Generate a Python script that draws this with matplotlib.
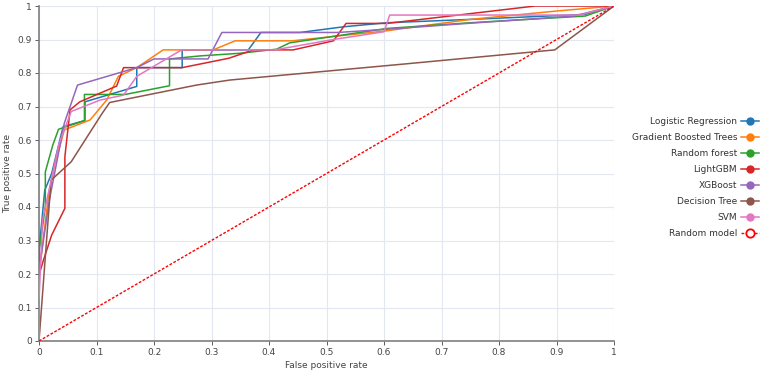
import matplotlib.pyplot as plt
from matplotlib.lines import Line2D

# ROC curves
lr_fpr = [0, 0, 0.01, 0.022, 0.042, 0.08, 0.08, 0.17, 0.17, 0.249, 0.249, 0.364, 0.386, 0.454, 0.53, 0.605, 0.75, 0.95, 1]
lr_tpr = [0, 0.27, 0.45, 0.5, 0.64, 0.658, 0.714, 0.76, 0.816, 0.816, 0.868, 0.869, 0.921, 0.921, 0.938, 0.95, 0.96, 0.975, 1]

gb_fpr = [0, 0, 0.017, 0.028, 0.044, 0.089, 0.118, 0.138, 0.17, 0.216, 0.249, 0.303, 0.341, 0.44, 0.6, 0.75, 0.9, 1]
gb_tpr = [0, 0.2, 0.44, 0.53, 0.63, 0.66, 0.72, 0.79, 0.816, 0.869, 0.869, 0.869, 0.896, 0.896, 0.925, 0.96, 0.985, 1]

rf_fpr = [0, 0, 0.011, 0.011, 0.024, 0.034, 0.079, 0.079, 0.15, 0.227, 0.227, 0.28, 0.35, 0.413, 0.436, 0.605, 0.75, 0.95, 1]
rf_tpr = [0, 0.267, 0.4, 0.505, 0.585, 0.632, 0.658, 0.736, 0.736, 0.762, 0.842, 0.851, 0.859, 0.871, 0.89, 0.933, 0.95, 0.97, 1]

lg_fpr = [0, 0, 0.0075, 0.022, 0.045, 0.045, 0.054, 0.071, 0.135, 0.147, 0.249, 0.33, 0.373, 0.442, 0.512, 0.534, 0.605, 0.863, 1]
lg_tpr = [0, 0.197, 0.24, 0.316, 0.396, 0.55, 0.69, 0.714, 0.761, 0.816, 0.816, 0.844, 0.869, 0.869, 0.896, 0.948, 0.948, 1.0, 1]

xg_fpr = [0, 0, 0.018, 0.044, 0.067, 0.17, 0.2, 0.294, 0.318, 0.52, 0.6, 0.745, 0.93, 1]
xg_tpr = [0, 0.21, 0.42, 0.65, 0.764, 0.816, 0.842, 0.842, 0.921, 0.921, 0.93, 0.948, 0.97, 1]

dt_fpr = [0, 0.021, 0.056, 0.11, 0.123, 0.274, 0.332, 0.63, 0.897, 1]
dt_tpr = [0, 0.48, 0.535, 0.68, 0.712, 0.764, 0.779, 0.826, 0.869, 1]

sv_fpr = [0, 0, 0.006, 0.035, 0.056, 0.106, 0.147, 0.17, 0.248, 0.41, 0.512, 0.6, 0.61, 0.94, 1]
sv_tpr = [0, 0.12, 0.36, 0.59, 0.685, 0.719, 0.734, 0.79, 0.869, 0.869, 0.9, 0.923, 0.973, 0.973, 1]

rand_fpr = [0, 1]
rand_tpr = [0, 1]

names = ['Logistic Regression', 'Gradient Boosted Trees', 'Random forest', 'LightGBM',
         'XGBoost', 'Decision Tree', 'SVM']
colors = ['#1f77b4', '#ff7f0e', '#2ca02c', '#d62728', '#9467bd', '#8c564b', '#e377c2']
curves = [(lr_fpr, lr_tpr), (gb_fpr, gb_tpr), (rf_fpr, rf_tpr), (lg_fpr, lg_tpr),
          (xg_fpr, xg_tpr), (dt_fpr, dt_tpr), (sv_fpr, sv_tpr)]

fig = plt.figure(figsize=(7.67, 3.74), dpi=100)
ax = fig.add_axes([39 / 767, 1 - 341 / 374, 575 / 767, 335 / 374])

grid_c = '#e3e7f2'
for (x, y), c in zip(curves, colors):
    ax.plot(x, y, color=c, lw=1.1, zorder=3)
ax.plot(rand_fpr, rand_tpr, color='red', lw=1.0, linestyle=(0, (2, 1.2)), zorder=3)

ax.set_xlim(0, 1)
ax.set_ylim(0, 1)
ax.set_xticks([i / 10 for i in range(11)])
ax.set_yticks([i / 10 for i in range(11)])
ax.set_xticklabels(['0', '0.1', '0.2', '0.3', '0.4', '0.5', '0.6', '0.7', '0.8', '0.9', '1'])
ax.set_yticklabels(['0', '0.1', '0.2', '0.3', '0.4', '0.5', '0.6', '0.7', '0.8', '0.9', '1'])
ax.grid(True, color=grid_c, lw=0.8, zorder=0)
for s in ['top', 'right']:
    ax.spines[s].set_visible(False)
for s in ['left', 'bottom']:
    ax.spines[s].set_color('#7f7f7f')
    ax.spines[s].set_linewidth(1.2)
ax.tick_params(axis='both', labelsize=6.5, colors='#444444', length=3, width=0.6, pad=2)
ax.set_xlabel('False positive rate', fontsize=6.5, color='#444444', labelpad=3)
ax.set_ylabel('True positive rate', fontsize=6.5, color='#444444', labelpad=4)

handles = [Line2D([0], [0], color=c, lw=1.1, marker='o', markersize=5) for c in colors]
handles.append(Line2D([0], [0], color='red', lw=1.0, linestyle=(0, (2, 1.2)), marker='o',
                      markersize=6, markerfacecolor='white', markeredgecolor='red', markeredgewidth=1.3))
fig.legend(handles, names + ['Random model'], loc='center right', bbox_to_anchor=(1.0, 0.525),
           frameon=False, markerfirst=False, fontsize=6.5, handlelength=2.0, handletextpad=0.4,
           labelspacing=0.78, labelcolor='#333333')

fig.savefig('out.png', dpi=100)
